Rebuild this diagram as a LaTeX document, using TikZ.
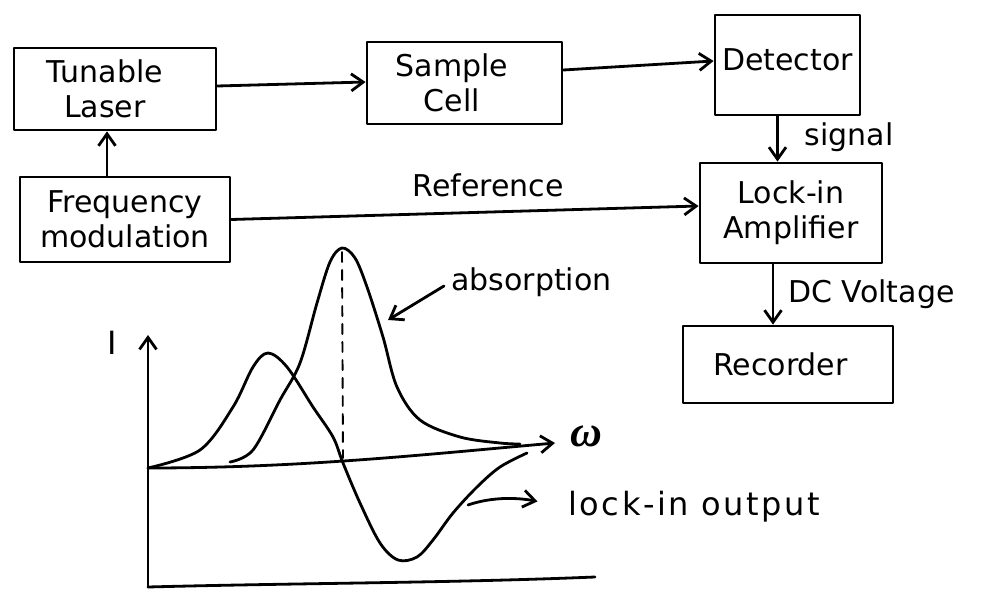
\documentclass[tikz,border=0pt]{standalone}
\usepackage{fontspec}
\setmainfont{DejaVu Sans}
\newfontfamily\omegafont{Liberation Serif}
\newfontfamily\widefont[LetterSpace=8]{DejaVu Sans}
\usetikzlibrary{arrows.meta,calc}
\begin{document}
\begin{tikzpicture}[x=1pt,y=-1pt, line width=2.8pt, line join=round, line cap=round,
  blk/.style={draw, rectangle, inner sep=0pt, align=center, font=\fontsize{30}{35}\selectfont},
  lbl/.style={font=\fontsize{30}{35}\selectfont, inner sep=0pt},
  arr/.style={-{Straight Barb[length=12pt,width=17pt,line width=2.8pt]}}]
\useasboundingbox (0,0) rectangle (982,593);
% blocks
\node[blk, minimum width=202pt, minimum height=82pt] (laser) at (115,89) {\hspace*{-20pt}Tunable\\\hspace*{-20pt}Laser};
\node[blk, minimum width=195pt, minimum height=82pt] (sample) at (464.5,83) {\hspace*{-25pt}Sample\\\hspace*{-25pt}Cell};
\node[blk, minimum width=145pt, minimum height=100pt] (det) at (787.5,65) {\raisebox{10pt}{Detector}};
\node[blk, minimum width=182pt, minimum height=100pt] (lock) at (791,213) {Lock-in\\Amplifier};
\node[blk, minimum width=210pt, minimum height=77pt] (rec) at (788,364.5) {\hspace*{-15pt}Recorder};
\node[blk, minimum width=210pt, minimum height=85pt] (fm) at (125,219.5) {Frequency\\modulation};
% connectors
\draw[arr] ([yshift=3pt]laser.east) -- ([yshift=1pt]sample.west);
\draw[arr] ([yshift=13pt]sample.east) -- ([yshift=4pt]det.west);
\draw[arr] ([xshift=-18pt]fm.north) -- ([xshift=-18pt]fm.north |- laser.south);
\draw[arr] (fm.east) -- node[lbl, above=14pt, pos=0.55] (reflbl) {Reference} ([yshift=7pt]lock.west);
\draw[arr] ([xshift=-10pt]det.south) -- ([xshift=-10pt]det.south |- lock.north)
  node[lbl, pos=0.45, right=26pt] (siglbl) {signal};
\draw[arr] ([xshift=-18pt]lock.south) -- ([xshift=-18pt]lock.south |- rec.north)
  node[lbl, pos=0.5, right=14pt] (dclbl) {DC Voltage};
% graph axes
\coordinate (O) at (148,468);
\coordinate (B) at (148,587);
\coordinate (Ytop) at (148,335);
\coordinate (Xend) at (555,443);
\coordinate (Bend) at (595,577);
\draw[arr] (B) -- (Ytop);
\draw (B) .. controls (300,583) and (450,583) .. (Bend);
\draw[arr] (O) .. controls (300,468) and (420,455) .. (Xend);
\node[font=\fontsize{32}{32}\selectfont, inner sep=0pt] (Ilbl) at (112,343) {I};
\node[font=\omegafont\bfseries\itshape\fontsize{44}{44}\selectfont, inner sep=0pt] (wlbl) at (586,436) {ω};
% absorption curve
\draw plot[smooth, tension=0.55] coordinates {(230,462) (253,450) (280,400) (300,363) (317,303) (330,262) (342,248) (355,258) (367,287) (383,337) (397,387) (420,420) (460,437) (500,443) (520,444)};
\draw[dash pattern=on 10pt off 8pt, line width=1.9pt] (342,252) -- (343,458);
% lock-in output curve
\draw plot[smooth, tension=0.55] coordinates {(148,468) (200,450) (233,407) (253,367) (268,353) (287,367) (313,407) (333,437) (343,463) (360,503) (380,543) (398,560) (417,557) (433,540) (453,513) (477,487) (500,467) (527,453)};
% labels on the graph
\node[lbl, anchor=west] (abslbl) at (450,282) {absorption};
\coordinate (abstip) at (388,320);
\draw[arr] (abslbl.west) ++(-6pt,-4pt) -- (abstip);
\node[font=\widefont\fontsize{32}{32}\selectfont, inner sep=0pt, anchor=west] (outlbl) at (567,507) {lock-in output};
\coordinate (outtail) at (468,505);
\draw[arr, shorten >=30pt] (outtail) .. controls (500,494) and (530,500) .. (outlbl.west);
\end{tikzpicture}
\end{document}
